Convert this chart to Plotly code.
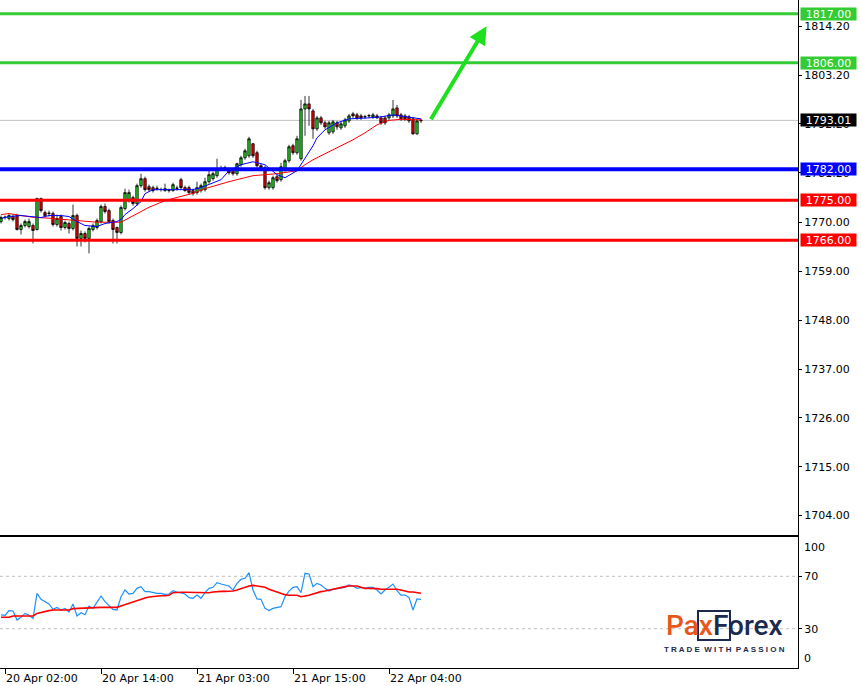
import plotly.graph_objects as go

# ---------------- data ----------------
bar_idx = list(range(106))

opens = [1770.22, 1771.12, 1770.90, 1771.35, 1771.57, 1768.43, 1769.33, 1769.10, 1769.33, 1768.43,
         1775.39, 1772.25, 1772.02, 1772.02, 1769.55, 1771.35, 1768.88, 1769.78, 1768.65, 1771.57,
         1766.41, 1767.53, 1766.41, 1768.43, 1768.88, 1770.22, 1773.59, 1772.69, 1770.45, 1768.88,
         1767.75, 1773.14, 1774.94, 1775.61, 1774.27, 1778.31, 1779.88, 1778.08, 1777.86, 1777.63,
         1777.41, 1777.18, 1777.18, 1777.18, 1777.70, 1779.65, 1777.86, 1777.86, 1777.18, 1776.74,
         1777.18, 1777.41, 1779.20, 1779.88, 1780.55, 1782.12, 1782.35, 1781.90, 1781.67, 1781.00,
         1783.02, 1784.59, 1785.04, 1787.74, 1785.72, 1782.80, 1782.35, 1777.86, 1777.86, 1780.33,
         1779.65, 1781.90, 1783.92, 1787.29, 1785.72, 1784.37, 1795.59, 1796.72, 1795.14, 1791.10,
         1793.57, 1792.45, 1790.21, 1790.43, 1792.45, 1791.33, 1791.78, 1792.90, 1794.47, 1794.25,
         1794.02, 1793.80, 1794.02, 1793.80, 1794.02, 1793.57, 1793.57, 1793.57, 1794.02, 1795.82,
         1794.25, 1794.02, 1793.80, 1793.35, 1789.98, 1792.90]
highs = [1771.57, 1771.57, 1772.02, 1771.80, 1772.02, 1769.78, 1770.67, 1770.90, 1769.78, 1775.61,
         1775.61, 1772.69, 1772.69, 1772.47, 1771.80, 1771.80, 1770.45, 1770.22, 1774.04, 1772.02,
         1768.20, 1767.98, 1769.10, 1769.78, 1770.90, 1774.04, 1774.27, 1773.14, 1770.90, 1769.10,
         1773.82, 1777.63, 1777.41, 1776.06, 1778.76, 1781.00, 1780.33, 1778.53, 1778.31, 1778.31,
         1777.86, 1778.76, 1777.63, 1778.98, 1778.31, 1780.10, 1778.31, 1778.31, 1777.63, 1779.20,
         1778.76, 1780.10, 1781.67, 1781.45, 1784.37, 1782.80, 1782.80, 1782.35, 1782.12, 1783.47,
         1785.04, 1786.61, 1789.31, 1787.96, 1786.16, 1783.25, 1782.80, 1779.43, 1780.55, 1780.78,
         1783.47, 1784.37, 1787.51, 1787.74, 1789.53, 1797.61, 1798.51, 1798.51, 1795.59, 1794.02,
         1794.02, 1792.90, 1792.90, 1793.12, 1792.90, 1792.67, 1793.57, 1794.47, 1794.92, 1794.69,
         1794.47, 1794.25, 1794.47, 1794.69, 1794.47, 1794.02, 1794.02, 1794.69, 1797.61, 1796.49,
         1794.69, 1794.47, 1794.25, 1793.80, 1793.35, 1793.35]
lows = [1769.78, 1770.67, 1770.45, 1770.22, 1768.20, 1767.31, 1768.88, 1768.65, 1765.29, 1768.20,
        1772.25, 1771.12, 1771.35, 1769.10, 1769.10, 1768.20, 1768.43, 1767.53, 1768.20, 1764.61,
        1764.61, 1765.51, 1763.04, 1767.98, 1768.43, 1769.78, 1772.02, 1769.78, 1765.29, 1765.29,
        1767.31, 1772.69, 1774.49, 1773.82, 1773.82, 1777.86, 1776.96, 1776.96, 1776.74, 1777.18,
        1776.96, 1776.96, 1776.74, 1776.96, 1777.18, 1777.41, 1776.96, 1776.29, 1776.06, 1776.29,
        1776.74, 1776.96, 1778.76, 1779.43, 1780.10, 1781.67, 1781.67, 1780.78, 1780.55, 1780.55,
        1782.57, 1784.14, 1784.59, 1784.59, 1782.35, 1781.90, 1777.41, 1777.41, 1777.41, 1778.98,
        1779.20, 1781.45, 1783.47, 1785.27, 1785.27, 1783.92, 1789.53, 1791.78, 1788.86, 1790.65,
        1792.00, 1791.10, 1789.76, 1789.98, 1790.88, 1790.88, 1791.33, 1792.45, 1793.57, 1793.12,
        1793.12, 1793.35, 1793.57, 1793.35, 1793.35, 1792.00, 1792.00, 1793.12, 1793.57, 1793.57,
        1792.90, 1792.90, 1792.45, 1789.76, 1789.76, 1792.45]
closes = [1771.12, 1771.20, 1771.57, 1770.67, 1768.43, 1769.33, 1770.22, 1770.22, 1768.20, 1775.39,
          1772.69, 1771.57, 1772.10, 1769.55, 1770.90, 1768.88, 1770.00, 1768.65, 1771.57, 1766.41,
          1767.53, 1766.41, 1768.65, 1769.33, 1770.45, 1773.59, 1772.47, 1770.22, 1768.43, 1767.75,
          1773.37, 1776.74, 1776.74, 1774.27, 1778.31, 1779.88, 1777.41, 1777.41, 1777.18, 1777.70,
          1777.45, 1777.63, 1777.25, 1778.53, 1777.75, 1777.86, 1777.18, 1776.74, 1776.51, 1777.86,
          1778.31, 1779.20, 1780.78, 1781.00, 1782.12, 1782.20, 1781.90, 1781.23, 1781.00, 1783.25,
          1784.59, 1786.16, 1788.86, 1785.04, 1782.80, 1782.35, 1777.86, 1778.98, 1780.10, 1779.43,
          1782.57, 1783.92, 1787.06, 1785.72, 1788.86, 1795.59, 1796.72, 1795.59, 1791.10, 1793.57,
          1792.45, 1791.55, 1792.45, 1792.67, 1791.55, 1792.23, 1793.12, 1794.02, 1794.02, 1793.57,
          1793.57, 1793.85, 1794.07, 1794.25, 1793.57, 1792.45, 1792.45, 1794.25, 1795.59, 1794.02,
          1793.35, 1793.35, 1792.90, 1789.98, 1792.90, 1793.01]

# moving averages on price (read at sampled bars)
ma_fast_idx = [0, 2, 5, 7, 10, 12, 15, 17, 19, 21, 23, 24, 26, 29, 30, 31, 33, 35, 36, 38,
               42, 46, 48, 50, 53, 55, 57, 60, 63, 66, 69, 71, 74, 76, 78, 79, 81, 84, 87, 92,
               95, 98, 100, 103, 105]
ma_fast = [1770.90, 1771.35, 1771.57, 1771.35, 1771.12, 1771.57, 1771.57, 1771.35, 1770.22, 1769.33,
           1769.10, 1769.10, 1769.78, 1770.22, 1770.67, 1771.80, 1773.14, 1774.71, 1776.51, 1777.41,
           1777.41, 1777.41, 1777.41, 1777.86, 1778.98, 1779.65, 1781.67, 1783.02, 1783.69, 1783.02,
           1780.78, 1780.10, 1781.67, 1784.59, 1787.29, 1789.08, 1790.88, 1792.45, 1793.35, 1793.57,
           1793.80, 1794.25, 1794.02, 1793.57, 1793.35]
ma_slow_idx = [0, 2, 5, 8, 12, 16, 20, 24, 30, 33, 37, 41, 45, 48, 51, 55, 57, 60, 63, 69,
               74, 76, 78, 81, 85, 88, 91, 94, 97, 100, 105]
ma_slow = [1771.80, 1772.02, 1771.57, 1771.19, 1770.97, 1770.67, 1770.29, 1770.07, 1770.07, 1771.57,
           1773.43, 1774.94, 1775.84, 1776.58, 1777.63, 1778.76, 1779.20, 1779.88, 1780.55, 1781.00,
           1781.67, 1783.02, 1784.14, 1785.49, 1787.29, 1788.63, 1790.21, 1792.00, 1793.01, 1793.24,
           1793.12]

# RSI and its moving average
rsi = [40.5, 40.2, 43.8, 43.5, 36.6, 38.7, 41.7, 40.2, 37.9, 57.0,
       52.4, 50.6, 48.9, 44.8, 46.3, 44.3, 45.5, 42.7, 48.9, 39.7,
       42.2, 40.7, 47.3, 45.5, 50.6, 55.0, 50.6, 47.3, 44.7, 44.3,
       54.4, 59.5, 56.5, 57.0, 60.8, 62.1, 58.3, 58.3, 57.5, 57.0,
       57.0, 56.2, 56.5, 59.0, 58.0, 57.5, 56.5, 53.7, 53.2, 55.7,
       53.2, 57.5, 60.8, 61.6, 65.1, 64.1, 63.4, 62.6, 59.5, 64.6,
       67.7, 68.5, 72.8, 59.5, 52.7, 52.4, 45.5, 43.8, 45.5, 46.3,
       46.8, 54.4, 58.7, 61.6, 62.1, 57.5, 72.3, 71.8, 62.1, 64.6,
       63.4, 60.8, 58.7, 60.0, 60.5, 60.8, 61.6, 63.4, 62.6, 60.8,
       61.6, 60.8, 61.6, 61.6, 59.5, 56.5, 59.5, 61.6, 64.1, 59.0,
       55.7, 55.7, 53.9, 44.3, 52.7, 52.4]
rsi_ma = [38.7, 38.7, 38.7, 39.7, 39.7, 39.7, 39.7, 39.7, 39.7, 41.7,
          42.5, 43.0, 43.8, 44.3, 44.3, 44.3, 44.3, 44.3, 45.3, 45.5,
          45.5, 45.5, 46.0, 46.3, 46.3, 46.3, 46.3, 46.3, 46.3, 46.3,
          47.3, 48.3, 49.9, 50.9, 51.9, 52.7, 53.4, 54.2, 54.7, 55.2,
          55.2, 55.2, 55.5, 57.5, 57.8, 57.8, 57.8, 57.8, 57.3, 57.3,
          57.5, 57.5, 57.5, 58.0, 58.5, 58.5, 58.5, 58.5, 58.8, 59.5,
          60.6, 61.6, 62.6, 63.1, 62.6, 62.1, 61.6, 60.1, 59.0, 58.0,
          57.0, 56.0, 55.5, 55.5, 55.5, 54.4, 54.7, 55.5, 56.5, 57.5,
          58.3, 58.8, 59.5, 60.3, 61.1, 61.6, 62.1, 62.6, 62.6, 62.6,
          61.6, 60.8, 60.8, 60.8, 60.6, 60.1, 60.1, 60.1, 60.1, 60.1,
          59.5, 58.8, 58.0, 58.0, 57.5, 57.0]

# horizontal levels
green_levels = [1817.00, 1806.00]
blue_levels = [1782.00]
red_levels = [1775.00, 1766.00]
current_price = 1793.01

price_tickvals = [1704, 1715, 1726, 1737, 1748, 1759, 1770, 1781.2, 1792.2, 1803.2, 1814.2]
price_ticktext = ["1704.00", "1715.00", "1726.00", "1737.00", "1748.00", "1759.00",
                  "1770.00", "1781.20", "1792.20", "1803.20", "1814.20"]
time_tickvals = [1, 25, 49, 73, 97]
time_ticktext = ["20 Apr 02:00", "20 Apr 14:00", "21 Apr 03:00", "21 Apr 15:00", "22 Apr 04:00"]
rsi_levels = [30, 70]

arrow_from = (107.25, 1792.94)
arrow_to = (121.4, 1814.2)

# ---------------- styling ----------------
BULL = "#1FD81F"
BEAR = "#F00000"
GREEN_LVL = "#33CC33"
BLUE_LVL = "#0000FF"
RED_LVL = "#FF0000"
FONT = "DejaVu Sans"

X_RANGE = [-0.25, 199.25]
Y_RANGE = [1699.62, 1820.12]
MAIN_DOMAIN = [0.1991, 1.0]
RSI_DOMAIN = [0.0, 0.1961]

fig = go.Figure()

fig.add_trace(go.Candlestick(
    x=bar_idx, open=opens, high=highs, low=lows, close=closes,
    increasing=dict(fillcolor=BULL, line=dict(color="black", width=0.8)),
    decreasing=dict(fillcolor=BEAR, line=dict(color="black", width=0.8)),
    whiskerwidth=0, xaxis="x", yaxis="y", hoverinfo="skip", showlegend=False))

fig.add_trace(go.Scatter(x=ma_slow_idx, y=ma_slow, mode="lines",
                         line=dict(color="#FF0000", width=1), xaxis="x", yaxis="y",
                         hoverinfo="skip", showlegend=False))
fig.add_trace(go.Scatter(x=ma_fast_idx, y=ma_fast, mode="lines",
                         line=dict(color="#0000FF", width=1), xaxis="x", yaxis="y",
                         hoverinfo="skip", showlegend=False))

fig.add_trace(go.Scatter(x=bar_idx, y=rsi, mode="lines",
                         line=dict(color="#1E90FF", width=1.2), xaxis="x2", yaxis="y2",
                         hoverinfo="skip", showlegend=False))
fig.add_trace(go.Scatter(x=bar_idx, y=rsi_ma, mode="lines",
                         line=dict(color="#FF0000", width=1.6), xaxis="x2", yaxis="y2",
                         hoverinfo="skip", showlegend=False))

shapes = []
shapes.append(dict(type="line", xref="paper", yref="y", x0=0, x1=1,
                   y0=current_price, y1=current_price,
                   line=dict(color="#C0C0C0", width=1), layer="below"))
for lv in green_levels:
    shapes.append(dict(type="line", xref="paper", yref="y", x0=0, x1=1, y0=lv, y1=lv,
                       line=dict(color=GREEN_LVL, width=3)))
for lv in blue_levels:
    shapes.append(dict(type="line", xref="paper", yref="y", x0=0, x1=1, y0=lv, y1=lv,
                       line=dict(color=BLUE_LVL, width=4)))
for lv in red_levels:
    shapes.append(dict(type="line", xref="paper", yref="y", x0=0, x1=1, y0=lv, y1=lv,
                       line=dict(color=RED_LVL, width=3)))
for lv in rsi_levels:
    shapes.append(dict(type="line", xref="paper", yref="y2", x0=0, x1=1, y0=lv, y1=lv,
                       line=dict(color="#C0C0C0", width=1, dash="3px,3px"), layer="below"))

annotations = []


def price_box(val, color, text=None):
    return dict(xref="paper", yref="y", x=1, y=val, xanchor="left", yanchor="middle",
                xshift=2, text=text or f"{val:.2f}", showarrow=False,
                font=dict(family=FONT, size=11, color="white"),
                bgcolor=color, borderpad=0, width=55, height=12, align="center")


for lv in green_levels:
    annotations.append(price_box(lv, GREEN_LVL))
annotations.append(price_box(current_price, "#000000"))
for lv in blue_levels:
    annotations.append(price_box(lv, BLUE_LVL))
for lv in red_levels:
    annotations.append(price_box(lv, RED_LVL))

# RSI scale end labels
annotations.append(dict(xref="paper", yref="y2", x=1, y=100, xanchor="left", yanchor="top",
                        xshift=4, yshift=-2, text="100", showarrow=False,
                        font=dict(family=FONT, size=11, color="black")))
annotations.append(dict(xref="paper", yref="y2", x=1, y=0, xanchor="left", yanchor="bottom",
                        xshift=4, yshift=1, text="0", showarrow=False,
                        font=dict(family=FONT, size=11, color="black")))

# forecast arrow
annotations.append(dict(xref="x", yref="y", x=arrow_to[0], y=arrow_to[1],
                        axref="x", ayref="y", ax=arrow_from[0], ay=arrow_from[1],
                        showarrow=True, arrowhead=2, arrowsize=0.9, arrowwidth=4,
                        arrowcolor="#1EE01E", text=""))

# watermark logo
annotations.append(dict(xref="paper", yref="paper", x=0.9085, y=0.063,
                        xanchor="center", yanchor="middle", showarrow=False,
                        text='<span style="color:#E8561C">Pax</span>'
                             '<span style="color:#1C2A4E">Forex</span>',
                        font=dict(family="Roboto", size=28, weight=500)))
annotations.append(dict(xref="paper", yref="paper", x=0.9085, y=0.028,
                        xanchor="center", yanchor="middle", showarrow=False,
                        text="T R A D E&nbsp;&nbsp;W I T H&nbsp;&nbsp;P A S S I O N",
                        font=dict(family="Liberation Sans", size=8, color="#1C2A4E",
                                  weight="bold")))
shapes.append(dict(type="rect", xref="paper", yref="paper",
                   x0=0.8747, x1=0.9148, y0=0.0419, y1=0.0853,
                   line=dict(color="#1C2A4E", width=2)))

fig.update_layout(
    width=861, height=686,
    margin=dict(l=0, r=63, t=0, b=18),
    paper_bgcolor="white", plot_bgcolor="white",
    showlegend=False, boxgap=0.15,
    font=dict(family=FONT, size=11, color="black"),
    shapes=shapes, annotations=annotations,
    xaxis=dict(domain=[0, 1], anchor="y", range=X_RANGE, showticklabels=False, ticks="",
               showgrid=False, zeroline=False, showline=True, linecolor="black", linewidth=1,
               rangeslider=dict(visible=False), fixedrange=True),
    yaxis=dict(domain=MAIN_DOMAIN, anchor="x", range=Y_RANGE, side="right",
               showline=True, linecolor="black", linewidth=1,
               ticks="outside", ticklen=3, tickcolor="black",
               tickvals=price_tickvals, ticktext=price_ticktext,
               showgrid=False, zeroline=False),
    xaxis2=dict(domain=[0, 1], anchor="y2", range=X_RANGE,
                tickvals=time_tickvals, ticktext=time_ticktext,
                ticks="outside", ticklen=5, tickcolor="black",
                ticklabelposition="outside right",
                showline=True, mirror=True, linecolor="black", linewidth=1,
                showgrid=False, zeroline=False),
    yaxis2=dict(domain=RSI_DOMAIN, anchor="x2", range=[0, 100], side="right",
                showline=True, linecolor="black", linewidth=1,
                ticks="outside", ticklen=3, tickcolor="black",
                tickvals=rsi_levels, ticktext=[str(v) for v in rsi_levels],
                showgrid=False, zeroline=False),
)

fig.write_html("out.html", config={"displayModeBar": False},
               post_script="document.body.style.margin='0';document.body.style.overflow='hidden';")
